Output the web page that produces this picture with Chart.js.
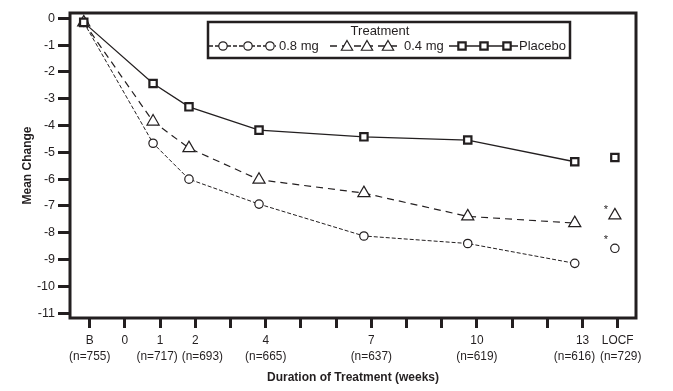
<!DOCTYPE html>
<html><head><meta charset="utf-8">
<script src="https://cdn.jsdelivr.net/npm/chart.js@4.4.0/dist/chart.umd.min.js"></script>
<style>html,body{margin:0;padding:0;background:#fff;} #wrap{width:673px;height:391px;position:relative;}</style>
</head><body><div id="wrap"><canvas id="c"></canvas></div>
<script>
// ---- data ----
const visitWeeks = [-1.17, 0.80, 1.82, 3.81, 6.79, 9.74, 12.78];
const locfWeek = [13.92];
const mg08 = [-0.15, -4.66, -6.00, -6.93, -8.12, -8.40, -9.14];
const mg04 = [-0.15, -3.85, -4.84, -6.02, -6.52, -7.39, -7.64];
const placebo = [-0.15, -2.43, -3.30, -4.17, -4.42, -4.54, -5.35];
const locf08 = [-8.58];
const locf04 = [-7.35];
const locfPlacebo = [-5.19];
const xTickValues = [-1, 0, 1, 2, 3, 4, 5, 6, 7, 8, 9, 10, 11, 12, 13, 14];
const xTickLabels = ['B', '0', '1', '2', '', '4', '', '', '7', '', '', '10', '', '', '13', 'LOCF'];
const xTickCounts = ['(n=755)', '', '(n=717)', '(n=693)', '', '(n=665)', '', '', '(n=637)', '', '', '(n=619)', '', '', '(n=616)', '(n=729)'];
const yTickValues = [0, -1, -2, -3, -4, -5, -6, -7, -8, -9, -10, -11];
const seriesNames = ['0.8 mg', '0.4 mg', 'Placebo'];

const FONT = '"Liberation Sans", Arial, sans-serif';
const INK = '#231f20';
// small horizontal nudges (px) of the "(n=...)" lines, as in the original layout
const countNudge = { 1: -3, 2: 7, 13: -8, 14: 3 };

function pts(xs, ys) { return ys.map((v, i) => ({ x: xs[i], y: v })); }

const styles = [
  { pointStyle: 'circle', pointRadius: 4.2, pointBorderWidth: 1.2, borderWidth: 1, borderDash: [4, 2] },
  { pointStyle: 'triangle', pointRadius: 7, pointBorderWidth: 1.2, borderWidth: 1.2, borderDash: [7, 5] },
  { pointStyle: 'rect', pointRadius: 5.2, pointBorderWidth: 2.2, borderWidth: 1.3, borderDash: [] }
];
const seriesVals = [mg08, mg04, placebo];
const locfVals = [locf08, locf04, locfPlacebo];

const datasets = [];
seriesVals.forEach((vals, i) => {
  const s = styles[i];
  datasets.push({
    label: seriesNames[i], data: pts(visitWeeks, vals), showLine: true,
    borderColor: INK, backgroundColor: '#fff', borderWidth: s.borderWidth, borderDash: s.borderDash,
    pointStyle: s.pointStyle, pointRadius: s.pointRadius, pointBorderWidth: s.pointBorderWidth,
    pointBackgroundColor: '#fff', pointBorderColor: INK, order: 2 - i, clip: false
  });
});
locfVals.forEach((vals, i) => {
  const s = styles[i];
  datasets.push({
    label: seriesNames[i] + ' LOCF', data: pts(locfWeek, vals), showLine: false,
    pointStyle: s.pointStyle, pointRadius: s.pointRadius, pointBorderWidth: s.pointBorderWidth,
    pointBackgroundColor: '#fff', pointBorderColor: INK, clip: false
  });
});

function drawMarker(ctx, style, x, y) {
  ctx.save();
  ctx.fillStyle = '#fff'; ctx.strokeStyle = INK; ctx.setLineDash([]);
  ctx.lineWidth = style.pointBorderWidth;
  ctx.beginPath();
  const r = style.pointRadius;
  if (style.pointStyle === 'circle') ctx.arc(x, y, r, 0, Math.PI * 2);
  else if (style.pointStyle === 'triangle') {
    ctx.moveTo(x, y - r); ctx.lineTo(x + 0.866 * r, y + r / 2); ctx.lineTo(x - 0.866 * r, y + r / 2); ctx.closePath();
  } else { const h = r * Math.SQRT1_2; ctx.rect(x - h, y - h, 2 * h, 2 * h); }
  ctx.fill(); ctx.stroke(); ctx.restore();
}

function narrowText(ctx, text, x, y) {
  ctx.save();
  ctx.translate(x, y); ctx.scale(0.88, 1);
  ctx.fillText(text, 0, 0);
  ctx.restore();
}

const decorPlugin = {
  id: 'decor',
  afterDatasetsDraw(chart) {
    const ctx = chart.ctx; const a = chart.chartArea;
    const xs = chart.scales.x, ys = chart.scales.y;
    ctx.save();
    // frame
    ctx.strokeStyle = INK; ctx.lineWidth = 3; ctx.setLineDash([]);
    ctx.strokeRect(a.left, a.top, a.right - a.left, a.bottom - a.top);
    // x tick labels (two lines)
    ctx.fillStyle = INK; ctx.font = '13.5px ' + FONT; ctx.textAlign = 'center'; ctx.textBaseline = 'middle';
    xTickValues.forEach((v, i) => {
      const px = xs.getPixelForValue(v);
      if (xTickLabels[i]) narrowText(ctx, xTickLabels[i], px, a.bottom + 22);
      if (xTickCounts[i]) narrowText(ctx, xTickCounts[i], px + (countNudge[v] || 0), a.bottom + 38);
    });
    // asterisks by LOCF markers of active treatments
    ctx.font = '11px ' + FONT;
    [[locf04[0], -5], [locf08[0], -8]].forEach(([v, dy]) => {
      ctx.fillText('*', xs.getPixelForValue(locfWeek[0]) - 9, ys.getPixelForValue(v) + dy);
    });
    // legend
    ctx.lineWidth = 2.5; ctx.strokeStyle = INK;
    ctx.strokeRect(208, 22, 362, 36);
    ctx.font = '13px ' + FONT; ctx.textAlign = 'center';
    ctx.fillText('Treatment', 380, 31);
    const rowY = 46;
    const items = [
      { x0: 209, x1: 276, marks: [223, 248, 270], tx: 279 },
      { x0: 330, x1: 400, marks: [347, 367, 388], tx: 404 },
      { x0: 449, x1: 518, marks: [462, 484, 507], tx: 519 }
    ];
    items.forEach((it, i) => {
      const s = styles[i];
      ctx.save();
      ctx.strokeStyle = INK; ctx.lineWidth = 1.5; ctx.setLineDash(s.borderDash);
      ctx.beginPath(); ctx.moveTo(it.x0, rowY); ctx.lineTo(it.x1, rowY); ctx.stroke();
      ctx.restore();
      const ls = Object.assign({}, s, { pointRadius: s.pointStyle === 'triangle' ? 6.5 : s.pointRadius });
      it.marks.forEach(mx => drawMarker(ctx, ls, mx, rowY + (s.pointStyle === 'triangle' ? 1 : 0)));
      ctx.fillStyle = INK; ctx.textAlign = 'left'; ctx.font = '13px ' + FONT;
      ctx.fillText(seriesNames[i], it.tx, rowY);
    });
    ctx.restore();
  }
};

new Chart(document.getElementById('c'), {
  type: 'scatter',
  data: { datasets },
  plugins: [decorPlugin],
  options: {
    responsive: true, maintainAspectRatio: false, animation: false,
    layout: { padding: { top: 13, right: 37, left: 0, bottom: 0 } },
    plugins: { legend: { display: false }, tooltip: { enabled: false } },
    scales: {
      x: {
        type: 'linear', min: -1.56, max: 14.52,
        afterBuildTicks: ax => { ax.ticks = xTickValues.map(v => ({ value: v })); },
        afterFit: ax => { ax.height = 73; },
        border: { display: false },
        grid: { drawOnChartArea: false, drawTicks: true, tickLength: 10, tickWidth: 3, tickColor: INK },
        ticks: { display: false, autoSkip: false, maxRotation: 0 },
        title: { display: true, text: 'Duration of Treatment (weeks)', color: INK, font: { family: FONT, size: 12, weight: 'bold' }, padding: { top: 0, bottom: 6 } }
      },
      y: {
        type: 'linear', min: -11.18, max: 0.2,
        afterBuildTicks: ax => { ax.ticks = yTickValues.map(v => ({ value: v })); },
        afterFit: ax => { ax.width = 70; },
        border: { display: false },
        grid: { drawOnChartArea: false, drawTicks: true, tickLength: 12, tickWidth: 3, tickColor: INK },
        ticks: { padding: 3, color: INK, font: { family: FONT, size: 12.5 }, callback: v => String(v) },
        title: { display: true, text: 'Mean Change', color: INK, font: { family: FONT, size: 12, weight: 'bold' }, padding: { top: 20, bottom: 0 } }
      }
    }
  }
});
</script></body></html>
